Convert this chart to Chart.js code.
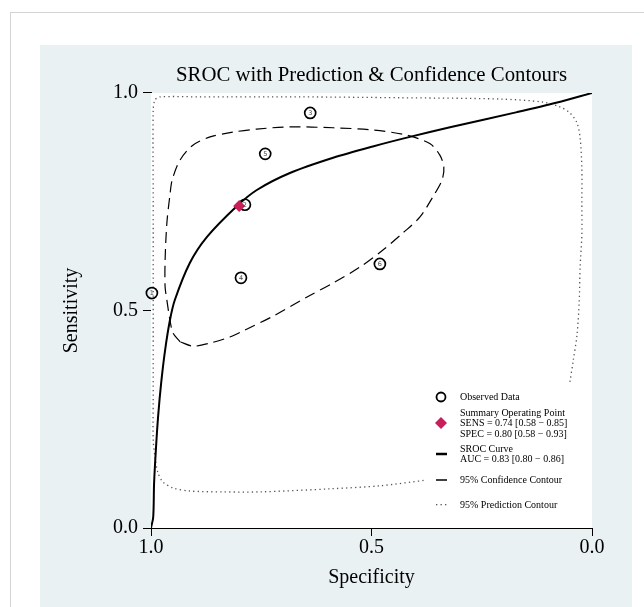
<!DOCTYPE html>
<html><head><meta charset="utf-8">
<script src="https://cdn.jsdelivr.net/npm/chart.js@4/dist/chart.umd.min.js"></script>
<style>
html,body{margin:0;padding:0;background:#fff;}
#wrap{position:relative;width:644px;height:607px;overflow:hidden;}
#outer{position:absolute;left:10px;top:12px;width:700px;height:700px;border:1px solid #d3d3d3;box-sizing:border-box;}
#panel{position:absolute;left:40px;top:45px;width:592px;height:600px;background:#e9f1f3;}
#holder{position:absolute;left:0;top:0;width:644px;height:607px;}
</style></head><body>
<div id="wrap"><div id="outer"></div><div id="panel"></div><div id="holder"><canvas id="c"></canvas></div></div>
<script>
const FONT = "'Liberation Serif','Times New Roman',serif";

// Observed studies
const studyIds  = [1, 2, 3, 4, 5, 6];
const studySpec = [0.998, 0.787, 0.639, 0.796, 0.741, 0.481];
const studySens = [0.540, 0.743, 0.954, 0.575, 0.860, 0.607];

// Summary operating point
const summarySpec = [0.80];
const summarySens = [0.74];

// SROC curve
const srocSpec = [1.000, 0.995, 0.993, 0.989, 0.984, 0.977, 0.968, 0.957, 0.946, 0.912, 0.873, 0.805, 0.760, 0.685, 0.587, 0.497, 0.413, 0.322, 0.170, 0.079, 0.000];
const srocSens = [0.000, 0.025, 0.103, 0.179, 0.255, 0.333, 0.409, 0.478, 0.524, 0.609, 0.669, 0.740, 0.777, 0.816, 0.851, 0.877, 0.899, 0.921, 0.956, 0.978, 1.000];

// 95% confidence contour
const confSpec = [0.934, 0.950, 0.957, 0.964, 0.968, 0.968, 0.964, 0.957, 0.952, 0.934, 0.905, 0.866, 0.814, 0.760, 0.685, 0.587, 0.497, 0.420, 0.367, 0.345, 0.336, 0.340, 0.361, 0.390, 0.429, 0.474, 0.526, 0.587, 0.646, 0.723, 0.787, 0.821, 0.866, 0.905, 0.934];
const confSens = [0.428, 0.448, 0.478, 0.524, 0.554, 0.616, 0.701, 0.766, 0.800, 0.846, 0.880, 0.899, 0.910, 0.917, 0.922, 0.920, 0.915, 0.903, 0.883, 0.857, 0.830, 0.800, 0.761, 0.715, 0.678, 0.639, 0.600, 0.563, 0.531, 0.487, 0.455, 0.439, 0.425, 0.418, 0.428];

// 95% prediction contour (visible part)
const predSpec = [0.050, 0.043, 0.034, 0.029, 0.027, 0.023, 0.023, 0.023, 0.027, 0.034, 0.050, 0.073, 0.111, 0.209, 0.435, 0.662, 0.889, 0.980, 0.991, 0.995, 0.995, 0.995, 0.995, 0.995, 0.991, 0.984, 0.973, 0.950, 0.912, 0.837, 0.753, 0.594, 0.481, 0.376];
const predSens = [0.336, 0.382, 0.444, 0.520, 0.598, 0.674, 0.749, 0.828, 0.897, 0.931, 0.954, 0.968, 0.979, 0.986, 0.989, 0.991, 0.991, 0.991, 0.984, 0.961, 0.754, 0.524, 0.294, 0.202, 0.163, 0.126, 0.106, 0.092, 0.085, 0.083, 0.083, 0.090, 0.097, 0.110];

const xTicks = [1.0, 0.5, 0.0];
const yTicks = [0.0, 0.5, 1.0];

const pts = (xs, ys) => xs.map((x, i) => ({x: x, y: ys[i]}));

const plotBg = {
  id: 'plotBg',
  beforeDatasetsDraw(chart) {
    const a = chart.chartArea, ctx = chart.ctx;
    ctx.save(); ctx.fillStyle = '#ffffff';
    ctx.fillRect(a.left, a.top, a.right - a.left, a.bottom - a.top);
    ctx.restore();
  }
};

const pointNums = {
  id: 'pointNums',
  afterDatasetsDraw(chart) {
    const meta = chart.getDatasetMeta(1), ctx = chart.ctx;
    ctx.save();
    ctx.font = "6.5px 'DejaVu Sans', sans-serif";
    ctx.fillStyle = '#444'; ctx.textAlign = 'center'; ctx.textBaseline = 'middle';
    meta.data.forEach((el, i) => ctx.fillText(String(studyIds[i]), el.x, el.y + 0.5));
    ctx.restore();
  }
};

const legendBox = {
  id: 'legendBox',
  afterDatasetsDraw(chart) {
    const ctx = chart.ctx, a = chart.chartArea;
    const sx = a.right - 156, tx = a.right - 132;
    ctx.save();
    ctx.font = "10px " + FONT; ctx.fillStyle = '#000'; ctx.textBaseline = 'middle'; ctx.textAlign = 'left';
    // Observed
    ctx.strokeStyle = '#000'; ctx.lineWidth = 1.8;
    ctx.beginPath(); ctx.arc(sx + 5, 397, 4.5, 0, Math.PI * 2); ctx.stroke();
    ctx.fillText('Observed Data', tx, 397);
    // Summary
    ctx.fillStyle = '#c81e5a';
    ctx.beginPath(); ctx.moveTo(sx + 5, 417); ctx.lineTo(sx + 11, 423); ctx.lineTo(sx + 5, 429); ctx.lineTo(sx - 1, 423); ctx.closePath(); ctx.fill();
    ctx.fillStyle = '#000';
    ctx.fillText('Summary Operating Point', tx, 413);
    ctx.fillText('SENS = 0.74 [0.58 \u2212 0.85]', tx, 423.5);
    ctx.fillText('SPEC = 0.80 [0.58 \u2212 0.93]', tx, 434);
    // SROC
    ctx.lineWidth = 2.5;
    ctx.beginPath(); ctx.moveTo(sx, 454); ctx.lineTo(sx + 11, 454); ctx.stroke();
    ctx.fillText('SROC Curve', tx, 449);
    ctx.fillText('AUC = 0.83 [0.80 \u2212 0.86]', tx, 459.5);
    // Confidence
    ctx.lineWidth = 1.5;
    ctx.beginPath(); ctx.moveTo(sx, 480); ctx.lineTo(sx + 11, 480); ctx.stroke();
    ctx.fillText('95% Confidence Contour', tx, 480);
    // Prediction
    ctx.fillStyle = '#555';
    [0, 4.5, 9].forEach(d => ctx.fillRect(sx + d, 504, 1.3, 1.3));
    ctx.fillStyle = '#000';
    ctx.fillText('95% Prediction Contour', tx, 505);
    ctx.restore();
  }
};

new Chart(document.getElementById('c'), {
  type: 'scatter',
  data: {
    datasets: [
      { label: 'Summary Operating Point', data: pts(summarySpec, summarySens),
        pointStyle: 'rectRot', pointRadius: 6, backgroundColor: '#c81e5a', borderColor: '#c81e5a', borderWidth: 0, clip: false },
      { label: 'Observed Data', data: pts(studySpec, studySens),
        pointStyle: 'circle', pointRadius: 5.5, backgroundColor: 'rgba(255,255,255,0)', borderColor: '#000', borderWidth: 1.7, clip: false },
      { label: 'SROC Curve', data: pts(srocSpec, srocSens), showLine: true, pointRadius: 0,
        borderColor: '#000', borderWidth: 2, tension: 0.3, fill: false },
      { label: '95% Confidence Contour', data: pts(confSpec, confSens), showLine: true, pointRadius: 0,
        borderColor: '#000', borderWidth: 1.2, borderDash: [11, 6], tension: 0.3, fill: false },
      { label: '95% Prediction Contour', data: pts(predSpec, predSens), showLine: true, pointRadius: 0,
        borderColor: '#555', borderWidth: 1.3, borderDash: [1.3, 3.2], tension: 0.3, fill: false, clip: false }
    ]
  },
  options: {
    responsive: true, maintainAspectRatio: false, animation: false,
    layout: { padding: { left: 40, right: 52, top: 45, bottom: 0 } },
    plugins: {
      legend: { display: false }, tooltip: { enabled: false },
      title: { display: true, text: 'SROC with Prediction & Confidence Contours', fullSize: false,
        font: { family: FONT, size: 20.8, weight: 'normal', lineHeight: 1.2 }, color: '#000', padding: { top: 18, bottom: 5 } }
    },
    scales: {
      x: { type: 'linear', reverse: true, min: 0, max: 1,
        afterBuildTicks: s => { s.ticks = xTicks.map(v => ({ value: v })); },
        afterFit: s => { s.height = 79; },
        grid: { drawOnChartArea: false, drawTicks: true, tickLength: 8, tickColor: '#000', tickWidth: 1 },
        border: { display: true, color: '#000', width: 1 },
        ticks: { font: { family: FONT, size: 20 }, color: '#000', padding: 0, maxRotation: 0, autoSkip: false,
          callback: v => Number(v).toFixed(1) },
        title: { display: true, text: 'Specificity', font: { family: FONT, size: 20 }, color: '#000', padding: { top: 0, bottom: 17 } }
      },
      y: { type: 'linear', min: 0, max: 1,
        afterBuildTicks: s => { s.ticks = yTicks.map(v => ({ value: v })); },
        afterFit: s => { s.width = 111; },
        grid: { drawOnChartArea: false, drawTicks: true, tickLength: 8, tickColor: '#000', tickWidth: 1 },
        border: { display: true, color: '#000', width: 1 },
        ticks: { font: { family: FONT, size: 20 }, color: '#000', padding: 5, autoSkip: false,
          callback: v => Number(v).toFixed(1) },
        title: { display: true, text: 'Sensitivity', font: { family: FONT, size: 20 }, color: '#000', padding: { top: 20, bottom: 0 } }
      }
    }
  },
  plugins: [plotBg, pointNums, legendBox]
});
</script>
</body></html>
